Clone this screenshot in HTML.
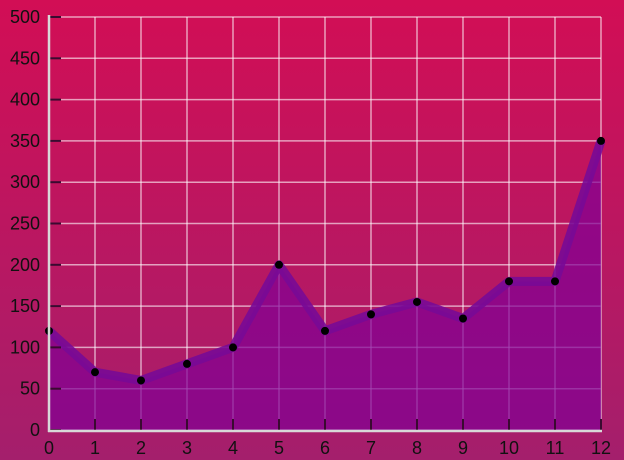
<!DOCTYPE html>
<html><head><meta charset="utf-8"><style>
html,body{margin:0;padding:0;width:624px;height:460px;overflow:hidden}
svg{display:block}
text{font-family:"Liberation Sans",sans-serif;font-size:18px;fill:#111}
</style></head><body>
<svg id="chart" width="624" height="460" viewBox="0 0 624 460">
<defs>
<linearGradient id="bg" x1="0" y1="0" x2="0" y2="1">
<stop offset="0" stop-color="#d20e55"/><stop offset="1" stop-color="#a41f6c"/>
</linearGradient>
</defs>
<rect width="624" height="460" fill="url(#bg)"/>
<g id="grid"></g><g id="area"></g><g id="axes"></g><g id="labels"></g>
</svg>
<script>
const categories=[0,1,2,3,4,5,6,7,8,9,10,11,12];
const values=[120,70,60,80,100,200,120,140,155,135,180,180,350];
const yTicks=[0,50,100,150,200,250,300,350,400,450,500];
const NS="http://www.w3.org/2000/svg";
const x=v=>49+v*46;
const y=v=>430-v*(413/500);
function mk(t,a,p){const e=document.createElementNS(NS,t);for(const k in a)e.setAttribute(k,a[k]);p.appendChild(e);return e;}
const grid=document.getElementById('grid'),area=document.getElementById('area'),axes=document.getElementById('axes'),labels=document.getElementById('labels');
yTicks.forEach(t=>{
 const l=mk('line',{x1:49,x2:601,y1:y(t),y2:y(t),stroke:'rgba(255,255,255,0.6)','stroke-width':1.5},grid);
 
 
 const tk=mk('line',{x1:49,x2:61,y1:y(t),y2:y(t),stroke:'#3a0a30','stroke-width':2},axes);
 
 
 const tx=mk('text',{x:40,y:y(t)+6,'text-anchor':'end'},labels);tx.textContent=t;
 
 
});
categories.forEach(c=>{
 const l=mk('line',{x1:x(c),x2:x(c),y1:y(500),y2:y(0),stroke:'rgba(255,255,255,0.6)','stroke-width':1.5},grid);
 
 
 const tk=mk('line',{x1:x(c),x2:x(c),y1:419,y2:430,stroke:'#3a0a30','stroke-width':2},axes);
 
 
 const tx=mk('text',{x:x(c),y:454,'text-anchor':'middle'},labels);tx.textContent=c;
 
 
});
let d='M'+x(categories[0])+','+y(0);
categories.forEach((c,i)=>d+=' L'+x(c)+','+y(values[i]));
d+=' L'+x(categories[categories.length-1])+','+y(0)+' Z';
const fill=mk('path',{d:d,fill:'rgba(128,0,150,0.7)'},area);


const pts=categories.map((c,i)=>x(c)+','+y(values[i])).join(' ');
const line=mk('polyline',{points:pts,fill:'none',stroke:'rgba(120,10,150,0.9)','stroke-width':9,'stroke-linejoin':'round'},area);


categories.forEach((c,i)=>{
 const p=mk('circle',{cx:x(c),cy:y(values[i]),r:4,fill:'#000'},area);
 
 
});
const ya=mk('line',{x1:49,x2:49,y1:15,y2:432,stroke:'#d8d8d8','stroke-width':2.5},axes);


const xa=mk('line',{x1:48,x2:602,y1:431,y2:431,stroke:'#d8d8d8','stroke-width':2.5},axes);


</script>
</body></html>
